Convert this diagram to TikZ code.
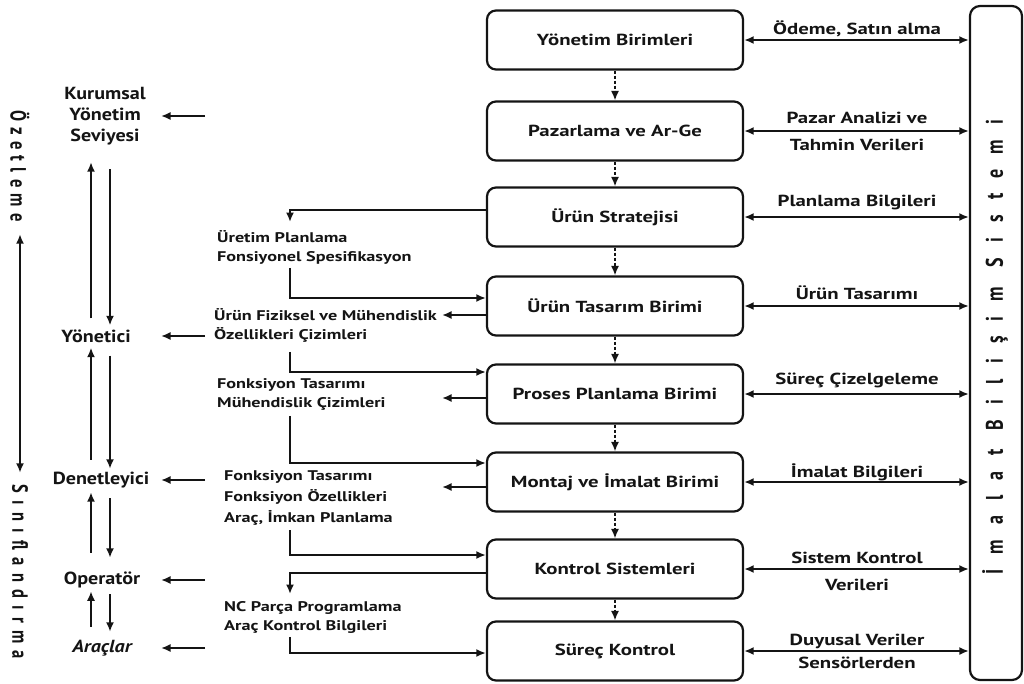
\documentclass[tikz,border=0pt]{standalone}
\usepackage{fontspec}
\setmainfont{PT Sans}
\newfontfamily\widefont{PT Sans}[FakeStretch=1.3]
\newfontfamily\levelfont{PT Sans}[FakeStretch=1.15]
\newfontfamily\upfont{PT Sans}[FakeStretch=0.75]
\usetikzlibrary{arrows.meta}
\definecolor{ink}{HTML}{141414}

\begin{document}
\begin{tikzpicture}[x=1pt,y=-1pt,
  every node/.style={text=ink},
  tip/.tip={Latex[length=9.5pt,width=8pt]},
  unit/.style={draw=ink, line width=2.2pt, rounded corners=9pt,
    minimum width=256pt, minimum height=59pt,
    font=\widefont\bfseries\fontsize{16}{19}\selectfont},
  flow/.style={draw=ink, line width=1.9pt, -tip},
  link/.style={draw=ink, line width=1.9pt, tip-tip},
  seq/.style={draw=ink, line width=1.6pt, dash pattern=on 3pt off 2pt, -tip},
  note/.style={align=left, anchor=north west, inner sep=1pt,
    font=\widefont\bfseries\fontsize{14}{19.5}\selectfont},
  info/.style={align=center, inner sep=1pt,
    font=\widefont\bfseries\fontsize{16}{17}\selectfont},
  level/.style={align=center, inner sep=2pt,
    font=\levelfont\bfseries\fontsize{17.5}{21}\selectfont},
  axis/.style={inner sep=2pt, font=\upfont\bfseries\fontsize{22}{24}\selectfont},
]
\useasboundingbox (0,0) rectangle (1024,683);

% helper columns for the left-hand routing
\coordinate (col) at (290,0);
\coordinate (tipx) at (442,0);
\coordinate (tailx) at (205,0);
\coordinate (headx) at (161,0);
\coordinate (upx) at (91,0);
\coordinate (dnx) at (110,0);

% functional units
\node[unit] (b1) at (615,40)  {Yönetim Birimleri};
\node[unit] (b2) at (615,131) {Pazarlama ve Ar-Ge};
\node[unit] (b3) at (615,217) {Ürün Stratejisi};
\node[unit] (b4) at (615,306) {Ürün Tasarım Birimi};
\node[unit] (b5) at (615,394) {Proses Planlama Birimi};
\node[unit] (b6) at (615,482) {Montaj ve İmalat Birimi};
\node[unit] (b7) at (615,569) {Kontrol Sistemleri};
\node[unit] (b8) at (615,651) {Süreç Kontrol};

\foreach \u/\v in {b1/b2,b2/b3,b3/b4,b4/b5,b5/b6,b6/b7,b7/b8}
  \draw[seq] (\u.south) -- (\v.north);

% information system column
\node[draw=ink, line width=2.2pt, rounded corners=10pt,
      minimum width=52pt, minimum height=674pt] (sys) at (996,343) {};
\node[axis, rotate=90, font=\upfont\bfseries\fontsize{24}{26}\selectfont]
  (systxt) at (995,347) {\addfontfeature{LetterSpace=63}İmalat Bilişim Sistemi};

\foreach \u in {b1,b2,b3,b4,b5,b6,b7,b8}
  \draw[link] (\u.east) -- (\u.east -| sys.west);

\node[info] (i1) at (857,29)  {Ödeme, Satın alma};
\node[info] (i2) at (857,131) {Pazar Analizi ve\\[10pt]Tahmin Verileri};
\node[info] (i3) at (857,203) {Planlama Bilgileri};
\node[info] (i4) at (857,293) {Ürün Tasarımı};
\node[info] (i5) at (857,380) {Süreç Çizelgeleme};
\node[info] (i6) at (857,472) {İmalat Bilgileri};
\node[info] (i7) at (857,571) {Sistem Kontrol\\[10pt]Verileri};
\node[info] (i8) at (857,651) {Duyusal Veriler\\[6pt]Sensörlerden};

% data flowing out to the left of the units
\node[note] (t1) at (216,229) {Üretim Planlama\\Fonsiyonel Spesifikasyon};
\node[note] (t2) at (213,307) {Ürün Fiziksel ve Mühendislik\\Özellikleri Çizimleri};
\node[note] (t3) at (216,377) {Fonksiyon Tasarımı\\Mühendislik Çizimleri};
\node[note, font=\widefont\bfseries\fontsize{14}{21}\selectfont]
  (t4) at (223,469) {Fonksiyon Tasarımı\\Fonksiyon Özellikleri\\Araç, İmkan Planlama};
\node[note] (t5) at (223,600) {NC Parça Programlama\\Araç Kontrol Bilgileri};

\draw[flow] ([yshift=7pt]b3.west) -| ([yshift=7pt]t1.north -| col);
\draw[flow] ([yshift=-2pt]t1.south -| col) |- ([yshift=8pt]b4.west);
\draw[flow] ([yshift=-9pt]b4.west) -- ([yshift=-9pt]b4.west -| tipx);
\draw[flow] ([yshift=-8pt]t2.south -| col) |- ([yshift=22pt]b5.west);
\draw[flow] ([yshift=-4pt]b5.west) -- ([yshift=-4pt]b5.west -| tipx);
\draw[flow] ([yshift=-4pt]t3.south -| col) |- ([yshift=19pt]b6.west);
\draw[flow] ([yshift=-5pt]b6.west) -- ([yshift=-5pt]b6.west -| tipx);
\draw[flow] ([yshift=-4pt]t4.south -| col) |- ([yshift=14pt]b7.west);
\draw[flow] ([yshift=-4pt]b7.west) -| ([yshift=6pt]t5.north -| col);
\draw[flow] ([yshift=-2pt]t5.south -| col) |- ([yshift=-2pt]b8.west);

% organisational levels
\node[level] (k) at (105,116) {Kurumsal\\Yönetim\\Seviyesi};
\node[level] (y) at (96,336)  {Yönetici};
\node[level] (d) at (101,480) {Denetleyici};
\node[level] (o) at (102,580) {Operatör};
\node[level] (a) at (102,648) {\itshape Araçlar};

\foreach \n in {k,y,d,o,a}
  \draw[flow] (\n -| tailx) -- (\n -| headx);

\draw[flow, shorten <=9pt, shorten >=15pt] (y.north -| upx) -- (k.south -| upx);
\draw[flow, shorten <=22pt, shorten >=2pt] (k.south -| dnx) -- (y.north -| dnx);
\draw[flow, shorten <=10pt, shorten >=3pt] (d.north -| upx) -- (y.south -| upx);
\draw[flow, shorten <=11pt, shorten >=1pt] (y.south -| dnx) -- (d.north -| dnx);
\draw[flow, shorten <=17pt, shorten >=2pt] (o.north -| upx) -- (d.south -| upx);
\draw[flow, shorten <=8pt, shorten >=12pt] (d.south -| dnx) -- (o.north -| dnx);
\draw[flow, shorten <=11pt, shorten >=1pt] (a.north -| upx) -- (o.south -| upx);
\draw[flow, shorten <=4pt, shorten >=6pt] (o.south -| dnx) -- (a.north -| dnx);

% abstraction axis
\node[axis, rotate=-90] (oz) at (20,166)
  {\addfontfeature{LetterSpace=29}Özetleme};
\node[axis, rotate=-90] (sf) at (20,572)
  {\addfontfeature{LetterSpace=33}Sınıflandırma};
\draw[link, shorten <=10pt, shorten >=10pt] (oz.east) -- (sf.west);

\end{tikzpicture}
\end{document}
